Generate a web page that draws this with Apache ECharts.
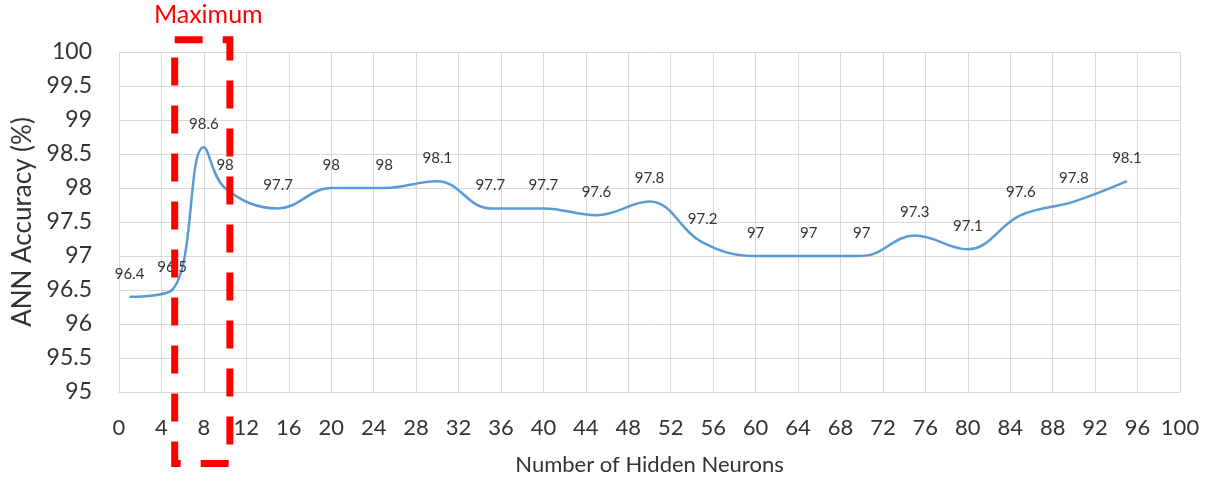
<!DOCTYPE html>
<html>
<head>
<meta charset="utf-8">
<script src="https://cdn.jsdelivr.net/npm/echarts@6/dist/echarts.min.js"></script>
<style>
  html, body { margin: 0; padding: 0; background: #fff; }
  #chart { width: 1214px; height: 486px; }
</style>
</head>
<body>
<div id="chart"></div>
<script>
// hidden neurons vs accuracy
var neurons = [1, 5, 8, 10, 15, 20, 25, 30, 35, 40, 45, 50, 55, 60, 65, 70, 75, 80, 85, 90, 95];
var accuracy = [96.4, 96.5, 98.6, 98, 97.7, 98, 98, 98.1, 97.7, 97.7, 97.6, 97.8, 97.2, 97, 97, 97, 97.3, 97.1, 97.6, 97.8, 98.1];
// the "Maximum" box, in axis units
var boxX = [5.25, 10.45];
var boxY = [93.95, 100.18];

var txt = '#333333';
var font = 'Lato, "Open Sans", sans-serif';

var chart = echarts.init(document.getElementById('chart'));

var pts = neurons.map(function (n, i) { return [n, accuracy[i]]; });

chart.setOption({
  animation: false,
  grid: { left: 119, right: 34, top: 52, bottom: 94 },
  xAxis: {
    type: 'value',
    min: 0, max: 100, interval: 4,
    name: 'Number of Hidden Neurons',
    nameLocation: 'middle',
    nameGap: 62,
    nameTextStyle: { fontSize: 22, color: txt, fontFamily: font },
    axisLine: { show: true, lineStyle: { color: '#d9d9d9', width: 1 } },
    axisTick: { show: false },
    axisLabel: { fontSize: 22, color: txt, fontFamily: font, margin: 25 },
    splitLine: { show: true, lineStyle: { color: '#d9d9d9', width: 1 } }
  },
  yAxis: {
    type: 'value',
    min: 95, max: 100, interval: 0.5,
    name: 'ANN Accuracy (%)',
    nameLocation: 'middle',
    nameGap: 82,
    nameTextStyle: { fontSize: 26, color: txt, fontFamily: font },
    axisLine: { show: true, lineStyle: { color: '#d9d9d9', width: 1 } },
    axisTick: { show: false },
    axisLabel: { fontSize: 23, color: txt, fontFamily: font, margin: 27 },
    splitLine: { show: true, lineStyle: { color: '#d9d9d9', width: 1 } }
  },
  series: [{
    type: 'line',
    data: pts,
    smooth: 0.4,
    symbol: 'circle',
    symbolSize: 1,
    itemStyle: { color: 'rgba(0,0,0,0)' },
    lineStyle: { color: '#5b9bd5', width: 2.5 },
    label: {
      show: true,
      position: 'top',
      distance: 15,
      fontSize: 15,
      color: txt,
      fontFamily: font,
      formatter: function (p) { return p.value[1]; }
    }
  }]
});

// dashed red box + caption, placed from axis values
var p0 = chart.convertToPixel({ gridIndex: 0 }, [boxX[0], boxY[1]]);
var p1 = chart.convertToPixel({ gridIndex: 0 }, [boxX[1], boxY[0]]);
chart.setOption({
  graphic: [{
    type: 'rect',
    shape: { x: p0[0], y: p0[1], width: p1[0] - p0[0], height: p1[1] - p0[1] },
    style: { fill: 'none', stroke: '#ff0000', lineWidth: 7, lineDash: [28, 20] },
    z: 100
  }, {
    type: 'text',
    x: (p0[0] + p1[0]) / 2 + 6,
    y: 15,
    style: {
      text: 'Maximum', fill: '#ff0000', fontSize: 25, fontFamily: font,
      align: 'center', verticalAlign: 'middle'
    },
    z: 100
  }]
});
</script>
</body>
</html>
